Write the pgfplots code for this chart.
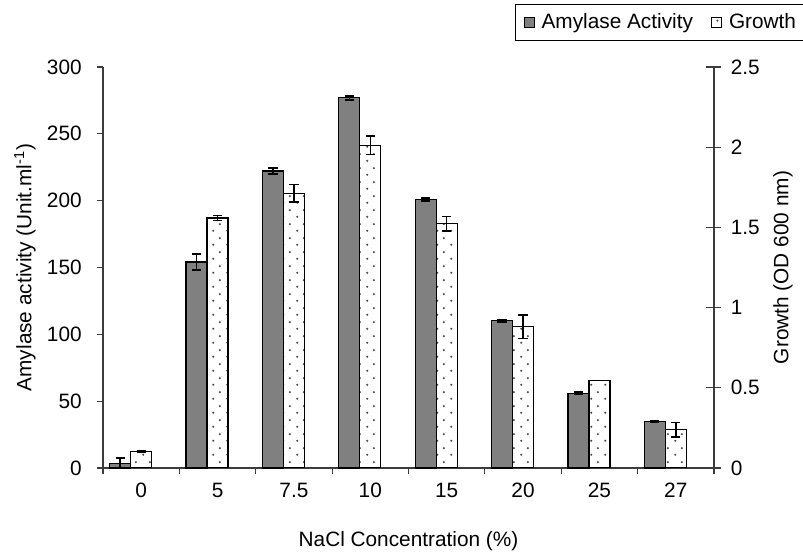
\documentclass[border=0pt]{standalone}
\usepackage{fontspec}
\setmainfont{Liberation Sans}
\usepackage{pgfplots}
\usepackage{pgfplotstable}
\pgfplotsset{compat=1.18}
\usetikzlibrary{patterns}
\pgfdeclarepatternformonly{sparsedots}{\pgfqpoint{0pt}{0pt}}{\pgfqpoint{7pt}{7pt}}{\pgfqpoint{7pt}{7pt}}{%
  \pgfpathcircle{\pgfqpoint{1.75pt}{1.75pt}}{0.6pt}%
  \pgfpathcircle{\pgfqpoint{5.25pt}{5.25pt}}{0.6pt}%
  \pgfusepath{fill}}
\definecolor{barg}{RGB}{128,128,128}
\definecolor{axc}{RGB}{60,60,60}
\definecolor{dotc}{RGB}{70,70,70}
\pgfplotsset{/pgf/number format/assume math mode=true,
  graysq/.style={legend image code/.code={\draw[fill=barg, draw=black, line width=0.5pt] (0pt,-2.5pt) rectangle (5pt,2.5pt);}},
  whitesq/.style={legend image code/.code={\draw[fill=white, draw=black, line width=0.5pt] (0pt,-2.5pt) rectangle (5pt,2.5pt);}}}

% gray bars sit left of each category centre (x = category - 0.275)
\pgfplotstableread{
x y e
-0.275 3.5 3.7
0.725 154.1 5.9
1.725 222.2 2.1
2.725 276.9 1.5
3.725 200.7 1.0
4.725 110.1 1.0
5.725 56.0 0.6
6.725 34.7 0.7
}\amy

\pgfplotstableread{
x y e
0 0.102 0.005
1 1.559 0.017
2 1.712 0.054
3 2.012 0.057
4 1.523 0.045
5 0.882 0.073
6 0.547 0.0
7 0.239 0.045
}\gro

\begin{document}
\fontsize{10.4}{12.5}\selectfont
\begin{tikzpicture}
\path[use as bounding box] (-51.5pt,-44pt) rectangle (350pt,234pt);
\begin{axis}[
  width=305.5pt, height=200.5pt, scale only axis,
  xmin=-0.5, xmax=7.5, ymin=0, ymax=300,
  axis y line*=left, axis x line*=bottom,
  axis line style={axc, line width=0.6pt},
  ytick={0,50,...,300},
  yticklabel style={xshift=-4pt},
  xtick={-0.5,0.5,...,7.5},
  xticklabels={0,5,7.5,10,15,20,25,27,},
  xticklabel style={xshift=19.09pt, yshift=-1pt},
  tick align=outside, major tick length=3pt,
  tick style={axc, line width=0.6pt},
  xlabel={NaCl Concentration (\%)},
  ylabel={Amylase activity (Unit.ml\textsuperscript{-1})},
  every axis x label/.style={at={(axis description cs:0.5,-0.182)}, anchor=center},
  every axis y label/.style={at={(axis description cs:-0.1277,0.5)}, rotate=90, anchor=center},
]
\addplot[ybar, bar width=0.275, bar shift=0, fill=barg, draw=black, line width=0.6pt,
  error bars/.cd, y dir=both, y explicit,
  error bar style={line width=0.7pt, black},
  error mark options={rotate=90, mark size=2.3pt, line width=0.9pt, black}]
  table[x=x, y=y, y error=e] {\amy};
\end{axis}
\begin{axis}[
  width=305.5pt, height=200.5pt, scale only axis,
  xmin=-0.5, xmax=7.5, ymin=0, ymax=2.5,
  axis y line*=right, axis x line=none,
  axis line style={axc, line width=0.6pt},
  ytick={0,0.5,1,1.5,2,2.5},
  yticklabels={0,0.5,1,1.5,2,2.5},
  yticklabel style={xshift=1pt},
  tick align=center, major tick length=7.5pt,
  tick style={axc, line width=0.6pt},
  ylabel={Growth (OD 600 nm)},
  every axis y label/.style={at={(axis description cs:1.113,0.5)}, rotate=90, anchor=center},
  legend columns=2,
  legend style={at={(axis description cs:0.6743,1.157)}, anchor=north west,
    draw=black, line width=0.6pt, inner xsep=4pt, inner ysep=2.5pt,
    /tikz/every odd column/.append style={column sep=1.5pt},
    /tikz/every even column/.append style={column sep=7pt}},
  legend cell align=left,
]
\addlegendimage{graysq}
\addplot[ybar, bar width=0.275, bar shift=0, fill=white, draw=black, line width=0.6pt,
  postaction={pattern=sparsedots, pattern color=dotc}, whitesq,
  error bars/.cd, y dir=both, y explicit,
  error bar style={line width=0.7pt, black},
  error mark options={rotate=90, mark size=2.3pt, line width=0.7pt, black}]
  table[x=x, y=y, y error=e] {\gro};
\legend{Amylase Activity, Growth}
\end{axis}
\end{tikzpicture}
\end{document}
